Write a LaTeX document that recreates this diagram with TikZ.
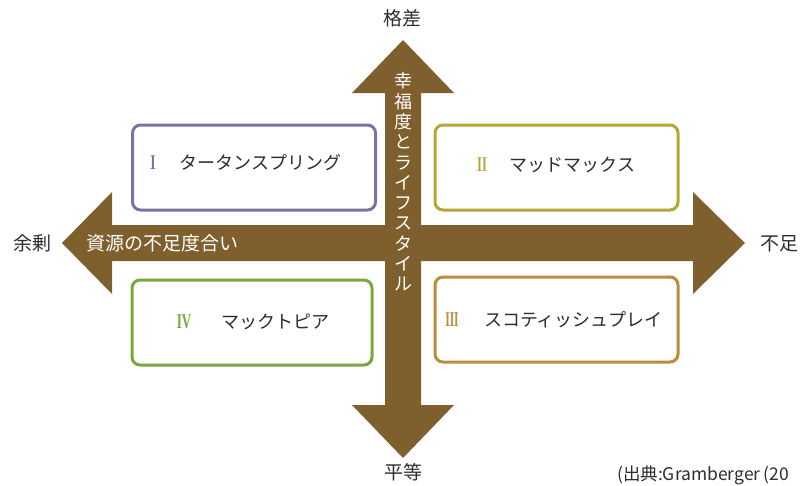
\documentclass[tikz,border=0pt]{standalone}
\usepackage{fontspec}
\usepackage{graphicx}
\setmainfont{Noto Sans CJK JP}
\newfontfamily\romfont{Liberation Serif}
\definecolor{arrowbrown}{RGB}{127,95,45}
\definecolor{boxone}{RGB}{120,116,160}
\definecolor{boxtwo}{RGB}{182,166,52}
\definecolor{boxthree}{RGB}{186,140,62}
\definecolor{boxfour}{RGB}{122,166,62}
\definecolor{txt}{RGB}{45,45,45}
\tikzset{
  quadbox/.style={draw, line width=3pt, rounded corners=8pt, fill=white},
  qtext/.style={font=\fontsize{18}{20}\selectfont, text=txt, inner sep=0pt},
  rnum/.style={font=\romfont\bfseries\fontsize{21}{21}\selectfont, inner sep=0pt},
  axlabel/.style={font=\fontsize{19}{20}\selectfont, text=txt, inner sep=0pt},
  ontext/.style={font=\fontsize{18}{20}\selectfont, text=white, inner sep=0pt}
}
\begin{document}
\begin{tikzpicture}[x=1pt,y=-1pt]
\useasboundingbox (0,0) rectangle (801,485);
% horizontal arrow
\fill[arrowbrown] (62,243) -- (112,192) -- (112,225) -- (693,225) -- (693,192)
  -- (745,243) -- (693,294) -- (693,261) -- (112,261) -- (112,294) -- cycle;
% vertical arrow
\fill[arrowbrown] (403,40) -- (454,93) -- (421,93) -- (421,405) -- (454,405)
  -- (403,458) -- (352,405) -- (385,405) -- (385,93) -- (352,93) -- cycle;
% boxes
\node[quadbox, draw=boxone, minimum width=243pt, minimum height=85pt] (b1) at (254,167.5) {};
\node[quadbox, draw=boxtwo, minimum width=243pt, minimum height=85pt] (b2) at (556.5,167.5) {};
\node[quadbox, draw=boxfour, minimum width=240pt, minimum height=85pt] (b4) at (252,322.5) {};
\node[quadbox, draw=boxthree, minimum width=243pt, minimum height=85pt] (b3) at (556.5,319.5) {};
% box contents
\node[rnum, text=boxone] (n1) at (153,163) {\scalebox{0.65}[1]{I}};
\node[qtext] (t1) at (260.5,163) {タータンスプリング};
\node[rnum, text=boxtwo] (n2) at (482,165) {\scalebox{0.6}[1]{II}};
\node[qtext] (t2) at (572.5,165) {マッドマックス};
\node[rnum, text=boxfour] (n4) at (184,322) {\scalebox{0.62}[1]{IV}};
\node[qtext] (t4) at (275.5,322) {マックトピア};
\node[rnum, text=boxthree] (n3) at (452,320) {\scalebox{0.55}[1]{III}};
\node[qtext] (t3) at (573.5,320) {スコティッシュプレイ};
% arrow texts
\node[ontext, font=\fontsize{19}{20}\selectfont] (h) at (162,243) {資源の不足度合い};
\node[ontext, align=center, font=\fontsize{18}{20.3}\selectfont] (v) at (403,182)
  {幸\\福\\度\\と\\ラ\\イ\\フ\\ス\\タ\\イ\\ル};
% axis labels
\node[axlabel] (top) at (402,18) {格差};
\node[axlabel] (bot) at (403,472) {平等};
\node[axlabel] (lft) at (32,243) {余剰};
\node[axlabel] (rgt) at (779,244) {不足};
% citation
\node[font=\fontsize{17.5}{18}\selectfont, text=txt, inner sep=0pt, anchor=west] (cite) at (617,475) {(出典:Gramberger\,(20};
\end{tikzpicture}
\end{document}
